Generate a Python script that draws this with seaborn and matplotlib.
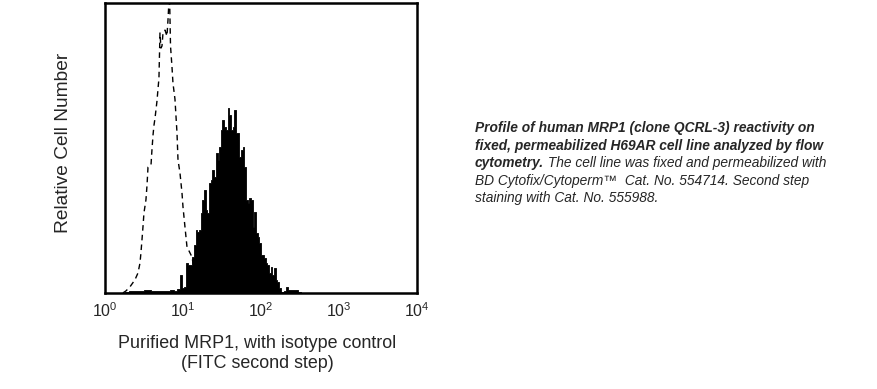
import matplotlib
matplotlib.use("Agg")
import matplotlib.pyplot as plt
import seaborn as sns
import pandas as pd

# ---- data ----
# MRP1 stained sample (filled histogram): fluorescence intensity, relative count (% of axis height)
mrp1_intensity = [1.80, 2.22, 2.81, 3.46, 4.38, 5.38, 6.42, 7.23, 7.89, 8.63, 9.43, 10.0, 10.6,
                  11.25, 11.9, 12.7, 13.4, 14.25, 14.7, 15.6, 16.5, 17.5, 18.05, 19.15, 20.3, 20.9,
                  22.2, 23.5, 24.2, 25.7, 27.3, 28.1, 29.8, 31.6, 32.6, 34.6, 36.7, 37.8, 40.0,
                  42.5, 43.8, 46.4, 49.2, 50.7, 53.8, 57.1, 58.8, 62.4, 66.2, 68.1, 72.3, 76.7,
                  79.0, 83.8, 88.9, 91.5, 97.1, 103, 106, 112, 119, 123, 130, 138, 142, 151, 160,
                  165, 175, 186, 203, 215, 235, 257, 281, 307, 335]
mrp1_count = [0.3, 0.7, 0.7, 1.0, 0.7, 0.7, 0.7, 1.0, 0.7, 1.4, 6.2, 1.7, 2.1,
              10.3, 9.7, 9.7, 12.4, 16.6, 21.7, 21.0, 21.7, 27.6, 32.1, 35.5, 28.6, 27.6,
              37.9, 39.0, 42.4, 40.0, 48.3, 45.9, 50.3, 56.2, 59.7, 57.2, 56.2, 63.8, 61.4,
              56.2, 57.2, 63.1, 55.2, 55.2, 46.9, 49.3, 50.3, 43.4, 32.1, 31.0, 32.8, 32.1,
              22.8, 27.9, 20.7, 19.3, 17.2, 13.1, 13.1, 12.1, 10.3, 9.7, 6.9, 9.0, 6.2, 8.6, 4.5,
              3.8, 1.7, 0.3, 0.7, 2.1, 1.0, 1.0, 1.0, 0.3, 0.0]

# Isotype control (dashed line)
iso_intensity = [1.70, 1.86, 2.09, 2.42, 2.65, 2.81, 2.89, 2.98, 3.07, 3.16, 3.35, 3.46, 3.56,
                 3.89, 4.00, 4.13, 4.25, 4.38, 4.64, 4.78, 4.92, 5.07, 5.22, 5.38, 5.54, 5.88,
                 6.23, 6.42, 6.71, 6.92, 7.23, 7.44, 7.89, 8.38, 8.63, 9.15, 9.71, 10.0, 10.6,
                 11.25, 12.3, 13.05, 14.25, 15.57, 17.52, 19.72]
iso_count = [0.0, 0.7, 2.1, 4.5, 6.9, 10.3, 13.8, 18.3, 22.8, 27.6, 32.1, 37.2, 43.4,
             44.1, 49.3, 54.5, 57.9, 60.3, 66.2, 70.3, 74.1, 89.7, 84.5, 85.2, 89.7, 90.7,
             88.6, 94.1, 104.0, 85.2, 77.9, 72.4, 66.9, 55.2, 45.9, 41.4, 34.5, 29.7, 22.8,
             15.9, 13.8, 12.4, 6.2, 2.8, 0.7, 0.0]

tick_values = [1, 10, 100, 1000, 10000]
tick_labels = [r"$\mathregular{10^{0}}$", r"$\mathregular{10^{1}}$", r"$\mathregular{10^{2}}$",
               r"$\mathregular{10^{3}}$", r"$\mathregular{10^{4}}$"]

xlabel_text = "Purified MRP1, with isotype control\n(FITC second step)"
ylabel_text = "Relative Cell Number"
caption_bold = ["Profile of human MRP1 (clone QCRL-3) reactivity on",
                "fixed, permeabilized H69AR cell line analyzed by flow",
                "cytometry."]
caption_italic = [" The cell line was fixed and permeabilized with",
                  "BD Cytofix/Cytoperm\u2122  Cat. No. 554714. Second step",
                  "staining with Cat. No. 555988."]

# ---- style ----
sns.set_style("white")
plt.rcParams["font.family"] = ["Liberation Sans", "DejaVu Sans"]
plt.rcParams["mathtext.fontset"] = "custom"
plt.rcParams["mathtext.rm"] = "Liberation Sans"
plt.rcParams["mathtext.it"] = "Liberation Sans:italic"

fig = plt.figure(figsize=(8.77, 3.89), dpi=100)
ax = fig.add_axes([0.1197, 0.247, 0.3558, 0.745])

iso_df = pd.DataFrame({"intensity": iso_intensity, "count": iso_count})
mrp_df = pd.DataFrame({"intensity": mrp1_intensity, "count": mrp1_count})

sns.lineplot(data=iso_df, x="intensity", y="count", ax=ax, color="black",
             linewidth=1.0, linestyle=(0, (4, 3)), sort=False, estimator=None, zorder=2)
ax.fill_between(mrp_df["intensity"], mrp_df["count"], step="mid", color="black",
                linewidth=0.6, edgecolor="black", zorder=3)

ax.set_xscale("log")
ax.set_xlim(1, 10000)
ax.set_ylim(0, 100)
ax.set_xticks(tick_values)
ax.set_xticklabels(tick_labels, fontsize=11.5)
ax.minorticks_off()
ax.set_yticks([])
ax.tick_params(axis="x", length=0, pad=6)
for s in ax.spines.values():
    s.set_visible(True)
    s.set_linewidth(1.8)
    s.set_color("black")
ax.set_xlabel("")
ax.set_ylabel("")

fig.text(0.2935, 1 - 368 / 389, xlabel_text, ha="center", va="baseline", fontsize=12.9,
         linespacing=1.2)
fig.text(0.072, 1 - 143 / 389, ylabel_text, rotation=90, ha="center", va="center",
         fontsize=13.8)

# caption
x0 = 475 / 877
line_h = 17.5 / 389
y_first = 1 - 132 / 389
fs = 9.9
for i, t in enumerate(caption_bold[:2]):
    fig.text(x0, y_first - i * line_h, t, fontsize=fs, fontweight="bold",
             fontstyle="italic", va="baseline", ha="left")
t3 = fig.text(x0, y_first - 2 * line_h, caption_bold[2], fontsize=fs, fontweight="bold",
              fontstyle="italic", va="baseline", ha="left")
fig.canvas.draw()
r = fig.canvas.get_renderer()
bb = t3.get_window_extent(r)
fig.text(bb.x1 / fig.bbox.width, y_first - 2 * line_h, caption_italic[0], fontsize=fs,
         fontstyle="italic", va="baseline", ha="left")
for i, t in enumerate(caption_italic[1:]):
    fig.text(x0, y_first - (3 + i) * line_h, t, fontsize=fs, fontstyle="italic",
             va="baseline", ha="left")

fig.savefig("out.png", dpi=100, facecolor="white")
